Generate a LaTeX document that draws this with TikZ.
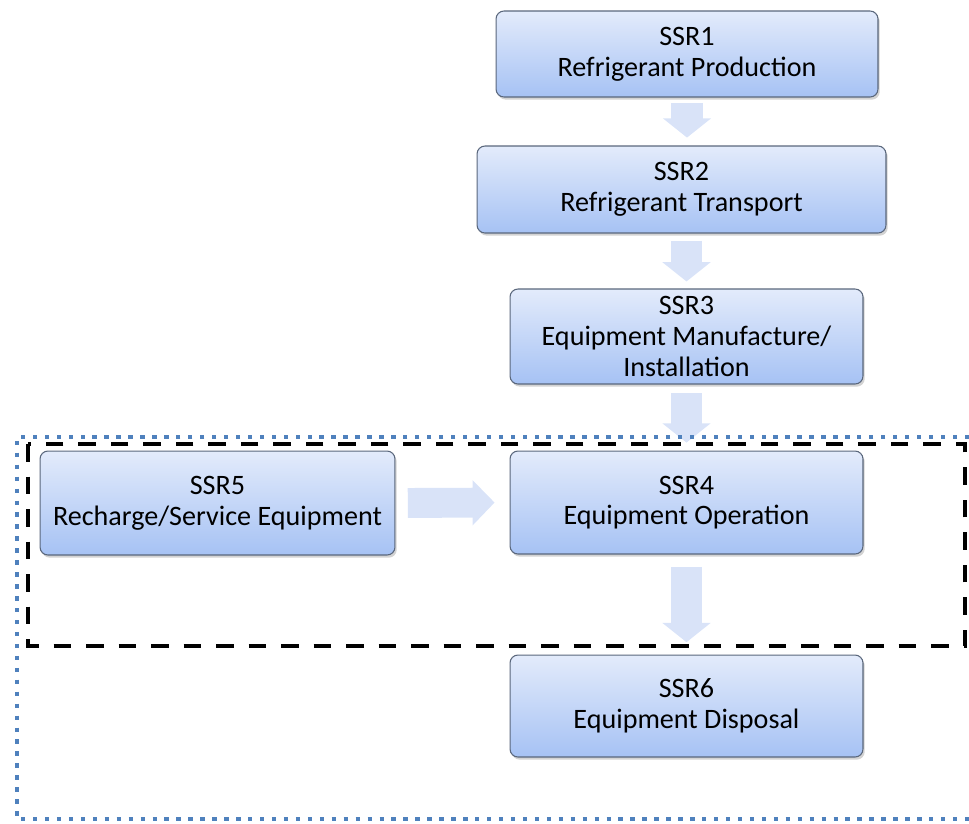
\documentclass[tikz,border=0pt]{standalone}
\usepackage{fontspec}
\setmainfont{Carlito}
\usepackage{xcolor}
\usepackage{tikz}
\usetikzlibrary{arrows.meta,positioning,shadows}
\definecolor{boxtop}{HTML}{E3EBFB}
\definecolor{boxbot}{HTML}{A6C2F4}
\definecolor{boxedge}{HTML}{5A677C}
\definecolor{flowblue}{HTML}{D9E3F8}
\definecolor{dotblue}{HTML}{4F81BD}

\begin{document}
\begin{tikzpicture}[
          x=0.02cm, y=-0.02cm,
          ssrbox/.style={draw=boxedge, line width=0.6pt, rounded corners=4.5pt,
            top color=boxtop, bottom color=boxbot, align=center,
            font=\fontsize{16}{17.5}\selectfont, inner sep=2pt,
            drop shadow={opacity=0.35, shadow xshift=1pt, shadow yshift=-1.5pt}},
          flowdown/.style={draw=flowblue, line width=18pt,
            -{Triangle[length=11pt, width=27pt]}},
          flowright/.style={draw=flowblue, line width=17pt,
            -{Triangle[length=12.5pt, width=25pt]}},
          project/.style={draw=dotblue, line width=2.5pt, dash pattern=on 2.5pt off 4.3pt},
          baseline/.style={draw=black, line width=2.3pt, dash pattern=on 10pt off 8.5pt}
      ]
        \useasboundingbox (0,0) rectangle (969,823);

        % SSR boxes
        \node[ssrbox, minimum width=7.64cm, minimum height=1.72cm] (ssr1) at (687,54)
          {SSR1\\Refrigerant Production};
        \node[ssrbox, minimum width=8.18cm, minimum height=1.74cm] (ssr2) at (681.5,189.5)
          {SSR2\\Refrigerant Transport};
        \node[ssrbox, minimum width=7.06cm, minimum height=1.9cm] (ssr3) at (686.5,336.5)
          {SSR3\\Equipment Manufacture/\\Installation};
        \node[ssrbox, minimum width=7.06cm, minimum height=2.06cm] (ssr4) at (686.5,502.5)
          {SSR4\\Equipment Operation};
        \node[ssrbox, minimum width=7.1cm, minimum height=2.08cm] (ssr5) at (217.5,503)
          {SSR5\\Recharge/Service Equipment};
        \node[ssrbox, minimum width=7.06cm, minimum height=2.04cm] (ssr6) at (686.5,706)
          {SSR6\\Equipment Disposal};

        % Flow arrows
        \draw[flowdown, shorten <=3pt, shorten >=4.5pt] (ssr1.south) -- (ssr1.south |- ssr2.north);
        \draw[flowdown, shorten <=4pt, shorten >=4pt] (ssr3.north |- ssr2.south) -- (ssr3.north);
        \draw[flowdown, shorten <=5pt, shorten >=4.5pt] (ssr3.south) -- (ssr4.north);
        \draw[flowdown, shorten <=7pt, shorten >=7pt] (ssr4.south) -- (ssr6.north);
        \draw[flowright, shorten <=7pt, shorten >=8.5pt] (ssr5.east) -- (ssr4.west);

        % Frames
        \draw[project] (969,437) -- (17,437) -- (17,819) -- (969,819);
        \draw[baseline] (28,444) rectangle (965,646);
      \end{tikzpicture}
\end{document}
